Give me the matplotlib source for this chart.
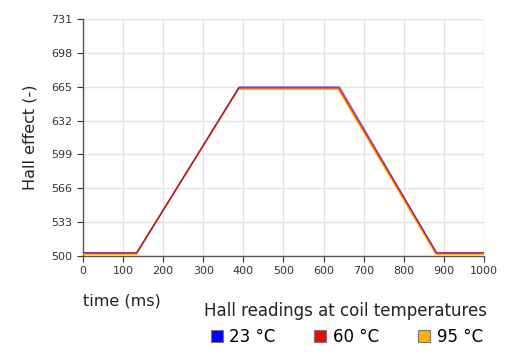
import matplotlib.pyplot as plt
from matplotlib.lines import Line2D

# breakpoints (time in ms, hall effect value)
time_23 = [0, 135, 390, 640, 882, 1000]
hall_23 = [503, 503, 665, 665, 503, 503]

time_60 = [0, 134, 389, 638, 881, 1000]
hall_60 = [503, 503, 664, 664, 503, 503]

time_95 = [0, 133, 388, 637, 880, 1000]
hall_95 = [502, 502, 663, 663, 502, 502]

labels = ['23 °C', '60 °C', '95 °C']
colors = ['#0000ff', '#ff0000', '#ffb000']
yticks = [500, 533, 566, 599, 632, 665, 698, 731]
xticks = [0, 100, 200, 300, 400, 500, 600, 700, 800, 900, 1000]

fig = plt.figure(figsize=(5.08, 3.54), dpi=100)
ax = fig.add_axes([0.163, 0.277, 0.79, 0.669])

ax.plot(time_95, hall_95, color=colors[2], lw=1.5, zorder=3)
ax.plot(time_60, hall_60, color=colors[1], lw=1.0, zorder=4, alpha=0.8)
ax.plot(time_23, hall_23, color=colors[0], lw=0.7, zorder=5, alpha=0.6)

ax.set_xlim(0, 1000)
ax.set_ylim(500, 731)
ax.set_xticks(xticks)
ax.set_yticks(yticks)
ax.tick_params(labelsize=8, colors='#333333', length=4, width=0.8)
ax.grid(True, color='#e3e3e3', lw=1)
ax.set_axisbelow(True)
for s in ['top', 'right']:
    ax.spines[s].set_visible(False)
for s in ['left', 'bottom']:
    ax.spines[s].set_color('#555555')
    ax.spines[s].set_linewidth(1)

ax.set_ylabel('Hall effect (-)', fontsize=11.5, color='#222222', labelpad=10)
ax.text(0, -0.19, 'time (ms)', transform=ax.transAxes, fontsize=11.5,
        color='#222222', ha='left', va='center')

handles = [Line2D([], [], marker='s', ls='none', markersize=8,
                  markerfacecolor=c, markeredgecolor='#777777', markeredgewidth=0.8)
           for c in colors]
leg = fig.legend(handles, labels, ncol=3, title='Hall readings at coil temperatures',
                 loc='lower right', bbox_to_anchor=(0.988, -0.02), frameon=False,
                 fontsize=12, title_fontsize=12, handletextpad=0.25,
                 columnspacing=2.2, handlelength=1.0)
leg.get_title().set_color('#222222')

fig.savefig('out.png', dpi=100)
